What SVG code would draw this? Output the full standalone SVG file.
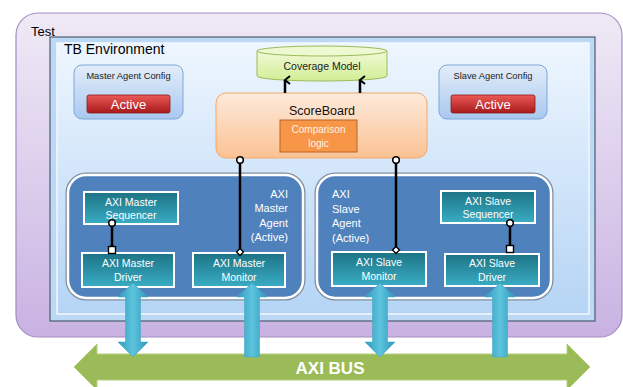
<svg xmlns="http://www.w3.org/2000/svg" width="623" height="387" viewBox="0 0 623 387">
<defs>
<linearGradient id="gTest" x1="0" y1="0" x2="0" y2="1"><stop offset="0" stop-color="#efeaf6"/><stop offset="1" stop-color="#c9b2e2"/></linearGradient>
<linearGradient id="gTB" x1="0" y1="0" x2="0" y2="1"><stop offset="0" stop-color="#eef6fe"/><stop offset="1" stop-color="#b5d4f5"/></linearGradient>
<linearGradient id="gCfg" x1="0" y1="0" x2="0" y2="1"><stop offset="0" stop-color="#e3edfa"/><stop offset="1" stop-color="#a9c8ef"/></linearGradient>
<linearGradient id="gRed" x1="0" y1="0" x2="0" y2="1"><stop offset="0" stop-color="#ea5a56"/><stop offset="1" stop-color="#a81b1b"/></linearGradient>
<linearGradient id="gSB" x1="0" y1="0" x2="0" y2="1"><stop offset="0" stop-color="#fdeadb"/><stop offset="1" stop-color="#fbc294"/></linearGradient>
<linearGradient id="gCov" x1="0" y1="0" x2="0" y2="1"><stop offset="0" stop-color="#f0f9d6"/><stop offset="1" stop-color="#d2ee95"/></linearGradient>
<linearGradient id="gTeal" x1="0" y1="0" x2="0" y2="1"><stop offset="0" stop-color="#1d7384"/><stop offset="1" stop-color="#3aadc5"/></linearGradient>
<linearGradient id="gCyan" x1="0" y1="0" x2="1" y2="0"><stop offset="0" stop-color="#2d9cbd"/><stop offset="0.5" stop-color="#5ec4de"/><stop offset="1" stop-color="#2a98b9"/></linearGradient>
<marker id="mArrow" markerUnits="userSpaceOnUse" markerWidth="12" markerHeight="12" refX="6" refY="2" orient="auto-start-reverse" viewBox="0 0 12 12">
<path d="M2,7 L6,2 L10,7" fill="none" stroke="#000" stroke-width="2"/>
</marker>
<marker id="mCircle" markerUnits="userSpaceOnUse" markerWidth="10" markerHeight="10" refX="5" refY="5" viewBox="0 0 10 10">
<circle cx="5" cy="5" r="3.3" fill="#fff" stroke="#000" stroke-width="1.6"/>
</marker>
<marker id="mDiamond" markerUnits="userSpaceOnUse" markerWidth="10" markerHeight="10" refX="5" refY="5" viewBox="0 0 10 10">
<path d="M5,1.5 L8.5,5 L5,8.5 L1.5,5 Z" fill="#fff" stroke="#000" stroke-width="1.4"/>
</marker>
<marker id="mSquare" markerUnits="userSpaceOnUse" markerWidth="10" markerHeight="10" refX="5" refY="5" viewBox="0 0 10 10">
<rect x="1.5" y="1.5" width="7" height="7" fill="#fff" stroke="#000" stroke-width="1.4"/>
</marker>
</defs>
<style>
text{font-family:"Liberation Sans",Arial,sans-serif;}
.agent{fill:#4f81bd;stroke:#fff;stroke-width:2.5;}
.agentShadow{fill:none;stroke:#7f8ea3;stroke-width:5;}
.teal{fill:url(#gTeal);stroke:#fff;stroke-width:2;}
.tw{fill:#fff;font-size:10.5px;text-anchor:middle;}
.lbl{fill:#fff;font-size:11px;}
.cfg{fill:url(#gCfg);stroke:#7fa7d9;stroke-width:1;}
.btn{fill:url(#gRed);stroke:#8c1a1a;stroke-width:0.8;}
.btnT{fill:#fff;font-size:13px;text-anchor:middle;}
.cyan{fill:url(#gCyan);stroke:#4aa8c4;stroke-width:0.6;}
.conn{stroke:#000;stroke-width:2.5;fill:none;}
</style>

<g id="test">
<rect x="16" y="13" width="606" height="324" rx="22" fill="url(#gTest)" stroke="#a18ec0" stroke-width="1.2"/>
<text x="31" y="36" font-size="13" fill="#000">Test</text>
</g>

<g id="tb-environment">
<rect x="50" y="37" width="545" height="284" fill="#bcd8f5" stroke="#4e5d70" stroke-width="1.2"/>
<rect x="57" y="43" width="532" height="271" fill="url(#gTB)" stroke="#f4f9ff" stroke-width="1.5"/>
<text x="64" y="54" font-size="14" fill="#000">TB Environment</text>
</g>

<g id="master-agent-config">
<rect class="cfg" x="74" y="65" width="109" height="54" rx="8"/>
<text x="128.5" y="79" font-size="9.3" text-anchor="middle" fill="#222">Master Agent Config</text>
<rect class="btn" x="87" y="95" width="83" height="18" rx="2"/>
<text class="btnT" x="128.5" y="109">Active</text>
</g>

<g id="slave-agent-config">
<rect class="cfg" x="439" y="65" width="108" height="54" rx="8"/>
<text x="493" y="79" font-size="9.3" text-anchor="middle" fill="#222">Slave Agent Config</text>
<rect class="btn" x="451" y="95" width="84" height="18" rx="2"/>
<text class="btnT" x="493" y="109">Active</text>
</g>

<g id="coverage-model">
<path d="M257,51 L257,76 A65,5 0 0 0 387,76 L387,51" fill="url(#gCov)" stroke="#9bbb59" stroke-width="1"/>
<ellipse cx="322" cy="51" rx="65" ry="5" fill="#eef9d2" stroke="#9bbb59" stroke-width="1"/>
<text x="322" y="70" font-size="10.5" text-anchor="middle" fill="#222">Coverage Model</text>
</g>

<g id="scoreboard">
<rect x="216" y="93" width="211" height="65" rx="10" fill="url(#gSB)" stroke="#f5a868" stroke-width="1"/>
<text x="322" y="115" font-size="12.5" text-anchor="middle" fill="#111">ScoreBoard</text>
<g id="comparison-logic">
<rect x="280" y="120" width="77" height="32" fill="#f79646" stroke="#b8642a" stroke-width="1"/>
<text x="318.5" y="133" font-size="10" text-anchor="middle" fill="#fff3e6">Comparison</text>
<text x="318.5" y="147" font-size="10" text-anchor="middle" fill="#fff3e6">logic</text>
</g>
</g>

<g id="axi-master-agent">
<rect class="agentShadow" x="68" y="175" width="235" height="123" rx="18"/>
<rect class="agent" x="68" y="175" width="235" height="123" rx="18"/>
<text class="lbl" x="288" y="198" text-anchor="end">AXI</text>
<text class="lbl" x="288" y="212" text-anchor="end">Master</text>
<text class="lbl" x="288" y="226.5" text-anchor="end">Agent</text>
<text class="lbl" x="288" y="241" text-anchor="end">(Active)</text>
</g>
<g id="axi-master-sequencer">
<rect class="teal" x="84" y="192" width="94" height="32"/>
<text class="tw" x="131" y="206">AXI Master</text>
<text class="tw" x="131" y="219">Sequencer</text>
</g>
<g id="axi-master-driver">
<rect class="teal" x="82" y="253" width="92" height="34"/>
<text class="tw" x="128" y="267">AXI Master</text>
<text class="tw" x="128" y="281">Driver</text>
</g>
<g id="axi-master-monitor">
<rect class="teal" x="193" y="253" width="92" height="34"/>
<text class="tw" x="239" y="267">AXI Master</text>
<text class="tw" x="239" y="281">Monitor</text>
</g>

<g id="axi-slave-agent">
<rect class="agentShadow" x="317" y="175" width="234" height="123" rx="18"/>
<rect class="agent" x="317" y="175" width="234" height="123" rx="18"/>
<text class="lbl" x="332" y="198">AXI</text>
<text class="lbl" x="332" y="212.5">Slave</text>
<text class="lbl" x="332" y="227">Agent</text>
<text class="lbl" x="332" y="241.5">(Active)</text>
</g>
<g id="axi-slave-sequencer">
<rect class="teal" x="441" y="191" width="94" height="32"/>
<text class="tw" x="488" y="205">AXI Slave</text>
<text class="tw" x="488" y="218">Sequencer</text>
</g>
<g id="axi-slave-monitor">
<rect class="teal" x="332" y="252" width="94" height="34"/>
<text class="tw" x="379" y="266">AXI Slave</text>
<text class="tw" x="379" y="280">Monitor</text>
</g>
<g id="axi-slave-driver">
<rect class="teal" x="445" y="254" width="94" height="32"/>
<text class="tw" x="492" y="267">AXI Slave</text>
<text class="tw" x="492" y="281">Driver</text>
</g>

<g id="axi-bus">
<polygon points="74,367 97,344 97,354 567,354 567,344 590,367 567,390 567,380 97,380 97,390" fill="#9bbb59" stroke="#b6d07e" stroke-width="1"/>
<text x="330" y="374" font-size="17" font-weight="bold" text-anchor="middle" fill="#fff">AXI BUS</text>
</g>

<g id="connectors">
<line class="conn" x1="285" y1="93" x2="285" y2="80" marker-end="url(#mArrow)"/>
<line class="conn" x1="360" y1="93" x2="360" y2="80" marker-end="url(#mArrow)"/>
<line class="conn" x1="240" y1="160" x2="240" y2="252" marker-start="url(#mCircle)" marker-end="url(#mDiamond)"/>
<line class="conn" x1="396" y1="160" x2="396" y2="250" marker-start="url(#mCircle)" marker-end="url(#mDiamond)"/>
<line class="conn" x1="112" y1="223" x2="112" y2="250" marker-start="url(#mCircle)" marker-end="url(#mSquare)"/>
<line class="conn" x1="510" y1="223" x2="510" y2="249" marker-start="url(#mCircle)" marker-end="url(#mSquare)"/>
<polygon class="cyan" points="133,283 148,297 140.5,297 140.5,342 148,342 133,357 118,342 125.5,342 125.5,297 118,297"/>
<polygon class="cyan" points="252,283 267,297 259.5,297 259.5,357 244.5,357 244.5,297 237,297"/>
<polygon class="cyan" points="380,283 395,297 387.5,297 387.5,342 395,342 380,357 365,342 372.5,342 372.5,297 365,297"/>
<polygon class="cyan" points="500,283 515,297 507.5,297 507.5,357 492.5,357 492.5,297 485,297"/>
</g>
</svg>
